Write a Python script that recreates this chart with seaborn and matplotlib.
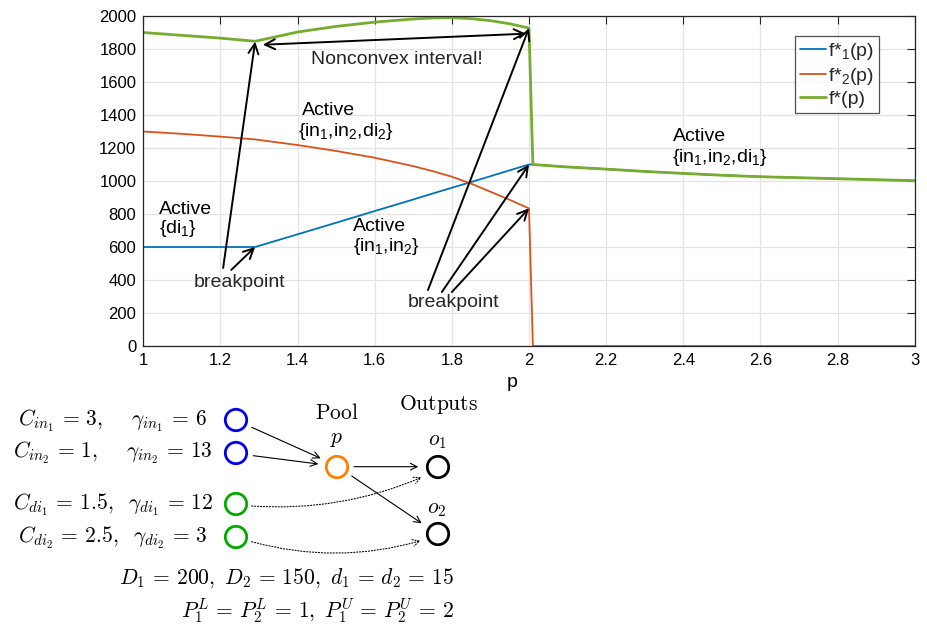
import matplotlib
matplotlib.use("Agg")
import matplotlib.pyplot as plt
from matplotlib.patches import Circle
import seaborn as sns
import pandas as pd

# values
p_vals = [1.0, 1.1, 1.2, 1.29, 1.4, 1.5, 1.6, 1.7, 1.75, 1.8, 1.85, 1.9, 1.95, 2.0,
          2.01, 2.1, 2.2, 2.3, 2.4, 2.5, 2.6, 2.7, 2.8, 2.9, 3.0]
f1_vals = [600, 600, 600, 600, 677, 747, 818, 888, 924, 959, 994, 1029, 1065, 1100,
           1100, 1085, 1072, 1058, 1046, 1035, 1026, 1020, 1014, 1008, 1002]
f2_vals = [1300, 1286, 1269, 1252, 1218, 1182, 1141, 1090, 1060, 1026, 984, 935, 886, 834,
           0, 0, 0, 0, 0, 0, 0, 0, 0, 0, 0]
fstar_vals = [1900, 1883, 1866, 1847, 1903, 1937, 1963, 1982, 1988, 1990, 1984, 1972, 1953, 1927,
              1100, 1085, 1072, 1058, 1046, 1035, 1026, 1020, 1014, 1008, 1002]
series_labels = ["f*$_1$(p)", "f*$_2$(p)", "f*(p)"]
x_ticks = [1, 1.2, 1.4, 1.6, 1.8, 2, 2.2, 2.4, 2.6, 2.8, 3]
x_tick_labels = ["1", "1.2", "1.4", "1.6", "1.8", "2", "2.2", "2.4", "2.6", "2.8", "3"]
y_ticks = list(range(0, 2001, 200))

sns.set_theme(style="whitegrid")
plt.rcParams["font.family"] = ["Liberation Sans", "DejaVu Sans"]
plt.rcParams["mathtext.fontset"] = "custom"
plt.rcParams["mathtext.rm"] = "Liberation Sans"
plt.rcParams["mathtext.it"] = "Liberation Sans:italic"

df = pd.DataFrame({"p": p_vals, "f1": f1_vals, "f2": f2_vals, "fstar": fstar_vals})

fig = plt.figure(figsize=(9.28, 6.26), dpi=100)
ax = fig.add_axes([0.1544, 0.4473, 0.8313, 0.5271])

sns.lineplot(data=df, x="p", y="f1", ax=ax, color="#0072BD", lw=1.3,
             label=series_labels[0], sort=False)
sns.lineplot(data=df, x="p", y="f2", ax=ax, color="#D95319", lw=1.3,
             label=series_labels[1], sort=False)
sns.lineplot(data=df, x="p", y="fstar", ax=ax, color="#77AC30", lw=2.0,
             label=series_labels[2], sort=False)

ax.set_xlim(1, 3)
ax.set_ylim(0, 2000)
ax.set_xticks(x_ticks)
ax.set_xticklabels(x_tick_labels)
ax.set_yticks(y_ticks)
ax.set_xlabel("p", fontsize=14, color="black")
ax.xaxis.set_label_coords(0.478, -0.085)
ax.set_ylabel("")
ax.grid(True, color="#e3e3e3", lw=0.9)
ax.tick_params(direction="in", length=5.5, width=0.8, top=True, right=True,
               labelsize=12, colors="#262626", labelcolor="black", pad=5)
for s in ax.spines.values():
    s.set_color("#262626")
    s.set_linewidth(0.9)

leg = ax.legend(loc="upper right", bbox_to_anchor=(0.954, 0.94), borderaxespad=0,
                fontsize=14, frameon=True, fancybox=False, handlelength=1.3,
                handletextpad=0.15, borderpad=0.25, labelspacing=0.2)
leg.get_frame().set_edgecolor("#262626")
leg.get_frame().set_linewidth(0.9)

# text annotations
tkw = dict(fontsize=14, color="black", va="center", ha="left")
ax.text(1.041, 830, "Active", **tkw)
ax.text(1.041, 715, "{di$_1$}", **tkw)
ax.text(1.544, 727, "Active", **tkw)
ax.text(1.544, 606, "{in$_1$,in$_2$}", **tkw)
ax.text(1.411, 1430, "Active", **tkw)
ax.text(1.40, 1303, "{in$_1$,in$_2$,di$_2$}", **tkw)
ax.text(2.373, 1267, "Active", **tkw)
ax.text(2.37, 1145, "{in$_1$,in$_2$,di$_1$}", **tkw)
ax.text(1.658, 1739, "Nonconvex interval!", fontsize=14, ha="center", va="center")
ax.text(1.249, 382, "breakpoint", fontsize=14, ha="center", va="center")
ax.text(1.803, 261, "breakpoint", fontsize=14, ha="center", va="center")

akw = dict(arrowstyle="->,head_length=0.6,head_width=0.3", color="black", lw=1.4,
           shrinkA=0, shrinkB=0)
ax.annotate("", xy=(1.992, 1893), xytext=(1.31, 1826),
            arrowprops=dict(akw, arrowstyle="<->,head_length=0.6,head_width=0.3"))
ax.annotate("", xy=(1.29, 1845), xytext=(1.207, 473), arrowprops=akw)
ax.annotate("", xy=(1.29, 600), xytext=(1.228, 461), arrowprops=akw)
ax.annotate("", xy=(2.0, 1927), xytext=(1.738, 339), arrowprops=akw)
ax.annotate("", xy=(2.0, 1100), xytext=(1.774, 327), arrowprops=akw)
ax.annotate("", xy=(2.0, 834), xytext=(1.80, 327), arrowprops=akw)

# network diagram below, in pixel coordinates
dax = fig.add_axes([0, 0, 1, 1])
dax.set_xlim(0, 928)
dax.set_ylim(626, 0)
dax.axis("off")
dax.patch.set_alpha(0)

nodes = [(236, 420, "#0000ee"), (236, 453, "#0000ee"), (236, 504, "#00aa00"),
         (236, 537, "#00aa00"), (337, 467, "#ff8000"), (438, 467, "black"),
         (438, 534, "black")]
for x, y, c in nodes:
    dax.add_patch(Circle((x, y), 10.7, fill=False, ec=c, lw=2.0))

mkw = dict(fontsize=15.5, math_fontfamily="cm", va="baseline", color="black")
dax.text(207, 426, r"$C_{in_1}\,=\,3,\quad\ \gamma_{in_1}\,=\,6$", ha="right", **mkw)
dax.text(213, 458, r"$C_{in_2}\,=\,1,\quad\ \gamma_{in_2}\,=\,13$", ha="right", **mkw)
dax.text(213, 510, r"$C_{di_1}\,=\,1.5,\;\ \gamma_{di_1}\,=\,12$", ha="right", **mkw)
dax.text(207, 543, r"$C_{di_2}\,=\,2.5,\;\ \gamma_{di_2}\,=\,3$", ha="right", **mkw)
dax.text(454, 584, r"$D_1\,=\,200,\ D_2\,=\,150,\ d_1\,=\,d_2\,=\,15$", ha="right", **mkw)
dax.text(454, 618, r"$P_1^L\,=\,P_2^L\,=\,1,\ P_1^U\,=\,P_2^U\,=\,2$", ha="right", **mkw)
dax.text(337, 419, r"$\mathrm{Pool}$", ha="center", **mkw)
dax.text(439, 410, r"$\mathrm{Outputs}$", ha="center", **mkw)
dax.text(337, 443, r"$p$", ha="center", **mkw)
dax.text(437, 445, r"$o_1$", ha="center", **mkw)
dax.text(437, 513, r"$o_2$", ha="center", **mkw)

dkw = dict(arrowstyle="->,head_length=0.4,head_width=0.2", color="black", lw=0.8,
           shrinkA=0, shrinkB=0)
dax.annotate("", xy=(320.7, 458.3), xytext=(251.7, 427.3), arrowprops=dkw)
dax.annotate("", xy=(318.3, 464), xytext=(253.3, 455.7), arrowprops=dkw)
dax.annotate("", xy=(418.3, 466.7), xytext=(354, 466.7), arrowprops=dkw)
dax.annotate("", xy=(421.7, 523.3), xytext=(351.7, 476), arrowprops=dkw)
dax.annotate("", xy=(421.7, 477.3), xytext=(251.7, 506),
             arrowprops=dict(dkw, linestyle=":", connectionstyle="arc3,rad=0.12"))
dax.annotate("", xy=(420.7, 540.7), xytext=(251.7, 541.7),
             arrowprops=dict(dkw, linestyle=":", connectionstyle="arc3,rad=0.14"))

fig.savefig("out.png", dpi=100)
